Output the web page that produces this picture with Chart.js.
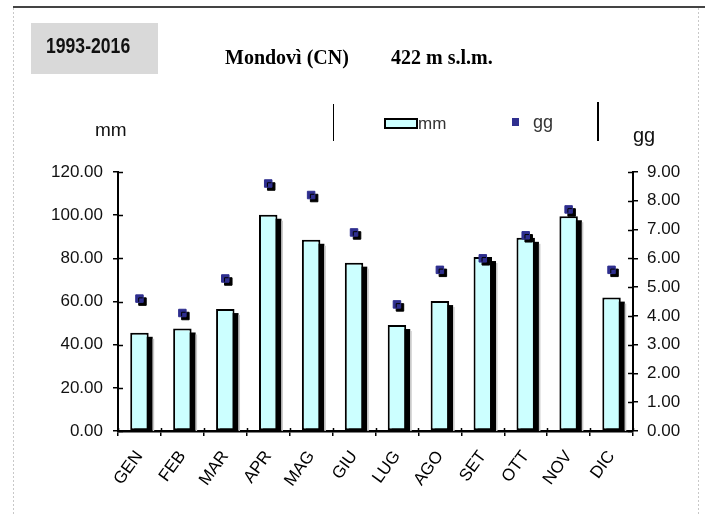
<!DOCTYPE html>
<html>
<head>
<meta charset="utf-8">
<script src="https://cdn.jsdelivr.net/npm/chart.js@4/dist/chart.umd.min.js"></script>
<style>
  html, body { margin: 0; padding: 0; background: #fff; }
  #wrap { width: 705px; height: 514px; }
</style>
</head>
<body>
<div id="wrap"><canvas id="c" width="705" height="514"></canvas></div>
<script>
// ---- data ----
const categories = ['GEN','FEB','MAR','APR','MAG','GIU','LUG','AGO','SET','OTT','NOV','DIC'];
const mmValues = [45.5, 47.5, 56.5, 100.2, 88.6, 78.0, 49.1, 60.2, 80.6, 89.5, 99.5, 61.8];
const ggValues = [4.6, 4.1, 5.3, 8.6, 8.2, 6.9, 4.4, 5.6, 6.0, 6.8, 7.7, 5.6];
const periodLabel = '1993-2016';
const titleStation = 'Mondovì (CN)';
const titleAltitude = '422 m s.l.m.';
const leftAxisTitle = 'mm';
const rightAxisTitle = 'gg';
const seriesNames = ['mm', 'gg'];

const SANS = '"Liberation Sans", Arial, sans-serif';
const SERIF = '"Liberation Serif", "Times New Roman", serif';
const BAR_FILL = '#ccffff';
const MARK = '#2f2f8f';

const decorPlugin = {
  id: 'decor',
  beforeDraw(chart) {
    const ctx = chart.ctx;
    ctx.save();
    ctx.fillStyle = '#fff';
    ctx.fillRect(0, 0, chart.width, chart.height);
    // frame
    ctx.strokeStyle = '#444';
    ctx.lineWidth = 2;
    ctx.beginPath(); ctx.moveTo(13, 7); ctx.lineTo(705, 7); ctx.stroke();
    ctx.strokeStyle = '#c8c8c8';
    ctx.lineWidth = 1;
    ctx.setLineDash([2, 2]);
    ctx.beginPath(); ctx.moveTo(13.5, 8); ctx.lineTo(13.5, 514); ctx.stroke();
    ctx.beginPath(); ctx.moveTo(698.5, 8); ctx.lineTo(698.5, 514); ctx.stroke();
    ctx.setLineDash([]);
    // period box
    ctx.fillStyle = '#d9d9d9';
    ctx.fillRect(31, 23, 127, 51);
    ctx.fillStyle = '#111';
    ctx.font = 'bold 22px ' + SANS;
    ctx.textBaseline = 'alphabetic';
    ctx.textAlign = 'left';
    ctx.save();
    ctx.translate(46, 53);
    ctx.scale(0.8, 1);
    ctx.fillText(periodLabel, 0, 0);
    ctx.restore();
    // title
    ctx.fillStyle = '#000';
    ctx.font = 'bold 20px ' + SERIF;
    ctx.fillText(titleStation, 225, 64);
    ctx.fillText(titleAltitude, 391, 64);
    // axis titles
    ctx.fillStyle = '#111';
    ctx.font = '19px ' + SANS;
    ctx.fillText(leftAxisTitle, 95, 136);
    ctx.font = '20px ' + SANS;
    ctx.fillText(rightAxisTitle, 633, 142);
    // legend
    ctx.strokeStyle = '#000';
    ctx.lineWidth = 1;
    ctx.beginPath(); ctx.moveTo(333.5, 104); ctx.lineTo(333.5, 141); ctx.stroke();
    ctx.lineWidth = 2;
    ctx.beginPath(); ctx.moveTo(598, 102); ctx.lineTo(598, 141); ctx.stroke();
    const ds = chart.data.datasets;
    ctx.fillStyle = ds[0].backgroundColor;
    ctx.fillRect(384, 118, 34, 11);
    ctx.strokeStyle = ds[0].borderColor;
    ctx.lineWidth = 2;
    ctx.strokeRect(385, 119, 32, 9);
    ctx.fillStyle = '#333';
    ctx.font = '17px ' + SANS;
    ctx.fillText(ds[0].label, 418, 129);
    ctx.fillStyle = ds[1].backgroundColor;
    ctx.fillRect(512, 118, 7, 8);
    ctx.fillStyle = '#333';
    ctx.font = '18px ' + SANS;
    ctx.fillText(ds[1].label, 533, 128);
    ctx.restore();
  },
  afterDraw(chart) {
    const ctx = chart.ctx;
    const a = chart.chartArea;
    ctx.save();
    ctx.strokeStyle = '#000';
    ctx.lineWidth = 1.5;
    const y = chart.scales.y, y1 = chart.scales.y1, x = chart.scales.x;
    y.ticks.forEach((t, i) => {
      const p = Math.round(y.getPixelForTick(i)) + 0.5;
      ctx.beginPath(); ctx.moveTo(a.left, p); ctx.lineTo(a.left + 5, p); ctx.stroke();
    });
    y1.ticks.forEach((t, i) => {
      const p = Math.round(y1.getPixelForTick(i)) + 0.5;
      ctx.beginPath(); ctx.moveTo(a.right - 5, p); ctx.lineTo(a.right, p); ctx.stroke();
    });
    for (let i = 0; i <= categories.length; i++) {
      const p = Math.round(x.getPixelForValue(i - 0.5)) + 0.5;
      ctx.beginPath(); ctx.moveTo(p, a.bottom - 3); ctx.lineTo(p, a.bottom); ctx.stroke();
    }
    ctx.restore();
  },
  beforeDatasetDraw(chart, args) {
    const ctx = chart.ctx;
    const a = chart.chartArea;
    ctx.save();
    if (args.meta.type === 'bar') {
      // drop shadow of each bar, from the library's bar elements
      ctx.beginPath();
      ctx.rect(a.left, a.top, a.right - a.left, a.bottom - a.top);
      ctx.clip();
      ctx.fillStyle = '#000';
      args.meta.data.forEach(el => {
        const p = el.getProps(['x', 'y', 'base', 'width'], true);
        ctx.fillRect(p.x - p.width / 2 + 4, p.y + 4, p.width, p.base - p.y);
      });
      ctx.fillStyle = '#c8c8c8';
      args.meta.data.forEach(el => {
        const p = el.getProps(['x', 'y', 'base', 'width'], true);
        ctx.fillRect(p.x + p.width / 2 + 4, p.y + 6, 1.5, p.base - p.y);
      });
      ctx.restore();
      ctx.save();
    } else {
      ctx.shadowColor = '#000';
      ctx.shadowBlur = 0;
      ctx.shadowOffsetX = 3; ctx.shadowOffsetY = 3;
    }
  },
  afterDatasetDraw(chart) {
    chart.ctx.restore();
  }
};

new Chart(document.getElementById('c'), {
  type: 'bar',
  data: {
    labels: categories,
    datasets: [
      {
        label: seriesNames[0],
        data: mmValues,
        yAxisID: 'y',
        backgroundColor: BAR_FILL,
        borderColor: '#000',
        borderWidth: 2,
        borderSkipped: false,
        barPercentage: 0.43,
        categoryPercentage: 1,
        order: 1
      },
      {
        label: seriesNames[1],
        type: 'line',
        data: ggValues,
        yAxisID: 'y1',
        showLine: false,
        pointStyle: 'rect',
        pointRadius: 5.3,
        pointBackgroundColor: MARK,
        pointBorderColor: MARK,
        backgroundColor: MARK,
        borderColor: MARK,
        pointBorderWidth: 1,
        order: 0
      }
    ]
  },
  options: {
    responsive: false,
    animation: false,
    devicePixelRatio: 1,
    layout: { padding: { top: 172, left: 0, right: 0, bottom: 0 } },
    plugins: {
      legend: { display: false },
      title: { display: false },
      tooltip: { enabled: false }
    },
    scales: {
      x: {
        grid: { offset: true, drawOnChartArea: false, drawTicks: true, tickLength: 5, color: '#000', lineWidth: 1.5 },
        border: { color: '#000', width: 2.5 },
        ticks: {
          minRotation: 54, maxRotation: 54, padding: 11, autoSkip: false,
          color: '#000', font: { family: SANS, size: 17 }
        },
        afterFit(s) { s.height = 83; }
      },
      y: {
        position: 'left',
        min: 0, max: 120,
        grid: { drawOnChartArea: false, drawTicks: true, tickLength: 5, color: '#000', lineWidth: 1.5 },
        border: { color: '#000', width: 2 },
        ticks: {
          stepSize: 20, padding: 10, color: '#111',
          font: { family: SANS, size: 17 },
          callback: v => Number(v).toFixed(2)
        },
        afterFit(s) { s.width = 118; }
      },
      y1: {
        position: 'right',
        min: 0, max: 9,
        grid: { drawOnChartArea: false, drawTicks: true, tickLength: 5, color: '#000', lineWidth: 1.5 },
        border: { color: '#000', width: 2 },
        ticks: {
          stepSize: 1, padding: 9, color: '#111',
          font: { family: SANS, size: 17 },
          callback: v => Number(v).toFixed(2)
        },
        afterFit(s) { s.width = 72; }
      }
    }
  },
  plugins: [decorPlugin]
});
</script>
</body>
</html>
